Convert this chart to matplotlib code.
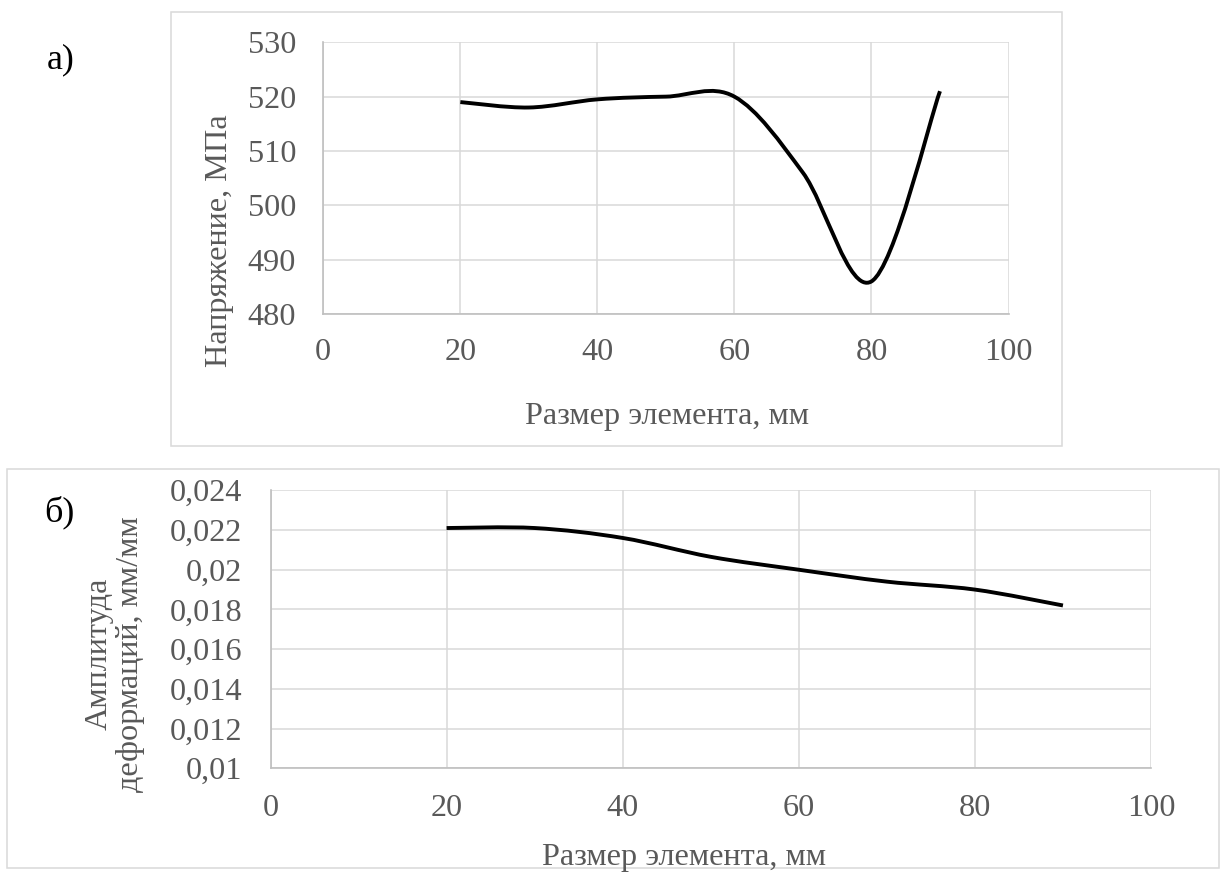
import matplotlib
matplotlib.use("Agg")
import matplotlib.pyplot as plt
from matplotlib.path import Path
from matplotlib.patches import PathPatch, Rectangle

# ---------------- data ----------------
size_mm = [20, 30, 40, 50, 60, 70, 80, 90]
stress_mpa = [519, 518, 519.5, 520, 520, 506, 486, 521]
strain_amp = [0.0221, 0.0221, 0.0216, 0.02065, 0.0200, 0.0194, 0.0190, 0.0182]

x_ticks = [0, 20, 40, 60, 80, 100]
x_tick_labels = ["0", "20", "40", "60", "80", "100"]
stress_ticks = [480, 490, 500, 510, 520, 530]
stress_tick_labels = ["480", "490", "500", "510", "520", "530"]
strain_ticks = [0.01, 0.012, 0.014, 0.016, 0.018, 0.02, 0.022, 0.024]
strain_tick_labels = ["0,01", "0,012", "0,014", "0,016", "0,018", "0,02", "0,022", "0,024"]

x_label = "Размер элемента, мм"
stress_label = "Напряжение, МПа"
strain_label = "Амплитуда\nдеформаций, мм/мм"

# ---------------- style ----------------
plt.rcParams['font.family'] = ['Liberation Serif', 'DejaVu Serif']
TXT = '#595959'
GRID = '#d9d9d9'
AXL = '#bfbfbf'
FS = 23.2

W, H = 1227, 872
fig = plt.figure(figsize=(W / 100, H / 100), dpi=100)


def fx(px):
    return px / W


def fy(py):
    return 1 - py / H


def smooth_path(xs, ys):
    """Excel-like smoothed line: cubic Bezier segments through the data points."""
    n = len(xs)
    verts = [(xs[0], ys[0])]
    codes = [Path.MOVETO]
    for i in range(n - 1):
        xp, yp = (xs[i - 1], ys[i - 1]) if i > 0 else (xs[i], ys[i])
        xn, yn = (xs[i + 2], ys[i + 2]) if i + 2 < n else (xs[i + 1], ys[i + 1])
        c1 = (xs[i] + (xs[i + 1] - xp) / 6, ys[i] + (ys[i + 1] - yp) / 6)
        c2 = (xs[i + 1] - (xn - xs[i]) / 6, ys[i + 1] - (yn - ys[i]) / 6)
        verts += [c1, c2, (xs[i + 1], ys[i + 1])]
        codes += [Path.CURVE4] * 3
    return Path(verts, codes)


def style_axes(ax, yticks, ylabels, ylim, xpad, ypad):
    ax.set_xlim(0, 100)
    ax.set_ylim(*ylim)
    ax.set_xticks(x_ticks)
    ax.set_xticklabels(x_tick_labels)
    ax.set_yticks(yticks)
    ax.set_yticklabels(ylabels)
    ax.tick_params(axis='both', length=0, labelsize=FS, labelcolor=TXT)
    ax.tick_params(axis='x', pad=xpad)
    ax.tick_params(axis='y', pad=ypad)
    ax.grid(True, color=GRID, linewidth=1.1)
    ax.set_axisbelow(True)
    for s in ['top', 'right']:
        ax.spines[s].set_visible(False)
    for s in ['left', 'bottom']:
        ax.spines[s].set_color(AXL)
        ax.spines[s].set_linewidth(1.2)


# ---------------- chart boxes ----------------
fig.patches.append(Rectangle((fx(171), fy(446)), fx(1062 - 171), (446 - 12) / H,
                             transform=fig.transFigure, fill=False,
                             edgecolor=GRID, linewidth=1.1))
fig.patches.append(Rectangle((fx(7), fy(868)), fx(1219 - 7), (868 - 469) / H,
                             transform=fig.transFigure, fill=False,
                             edgecolor=GRID, linewidth=1.1))

# ---------------- top chart ----------------
ax1 = fig.add_axes([fx(323.3), fy(314), fx(1008.5 - 323.3), (314 - 42.3) / H])
style_axes(ax1, stress_ticks, stress_tick_labels, (480, 530), 17.5, 19.5)
ax1.add_patch(PathPatch(smooth_path(size_mm, stress_mpa), fill=False,
                        edgecolor='black', linewidth=2.8, capstyle='butt',
                        joinstyle='round', zorder=3))
fig.text(fx(667), fy(416), x_label, ha='center', va='center', fontsize=FS, color=TXT)
fig.text(fx(219), fy(241), stress_label, ha='center', va='center', fontsize=FS,
         color=TXT, rotation=90)
fig.text(fx(61), fy(60), "а)", ha='center', va='center', fontsize=26, color='black')

# ---------------- bottom chart ----------------
ax2 = fig.add_axes([fx(270.5), fy(768.3), fx(1151 - 270.5), (768.3 - 490.3) / H])
style_axes(ax2, strain_ticks, strain_tick_labels, (0.01, 0.024), 18.5, 20.5)
ax2.add_patch(PathPatch(smooth_path(size_mm, strain_amp), fill=False,
                        edgecolor='black', linewidth=2.8, capstyle='butt',
                        joinstyle='round', zorder=3))
fig.text(fx(684), fy(857), x_label, ha='center', va='center', fontsize=FS, color=TXT)
fig.text(fx(115), fy(654), strain_label, ha='center', va='center', fontsize=FS,
         color=TXT, rotation=90, linespacing=1.1)
fig.text(fx(59), fy(512), "б)", ha='center', va='center', fontsize=26, color='black')

fig.savefig("out.png", dpi=100)
